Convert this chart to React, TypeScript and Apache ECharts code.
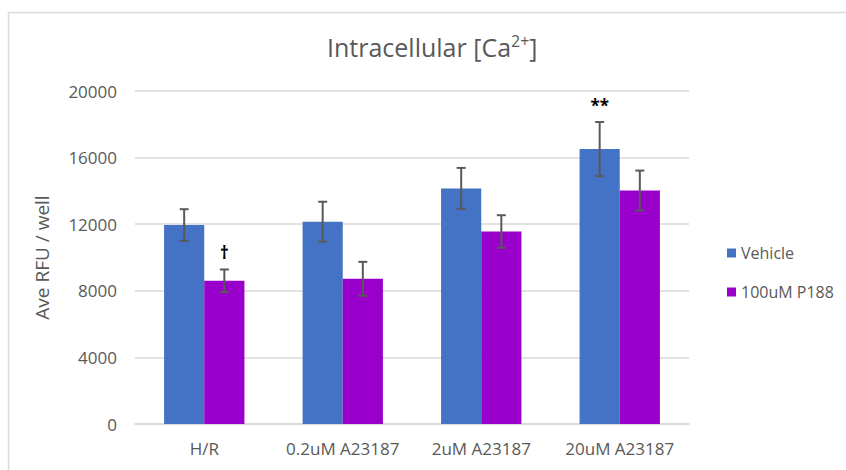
import React, { useEffect, useRef } from "react";
import * as echarts from "echarts";

// Treatment groups on the x axis
const categories = ["H/R", "0.2uM A23187", "2uM A23187", "20uM A23187"];

// Mean fluorescence per well and standard error for each treatment
const vehicleMeans = [11950, 12150, 14150, 16510];
const vehicleErrors = [950, 1200, 1230, 1630];
const p188Means = [8600, 8720, 11560, 14020];
const p188Errors = [680, 1020, 980, 1200];

// Significance markers drawn above the error bars
const vehicleMarks = ["", "", "", "**"];
const p188Marks = ["\u2020", "", "", ""];

const yTicks = { min: 0, max: 20000, interval: 4000 };

const FONT = "'Open Sans', 'Noto Sans', sans-serif";
const GREY = "#595959";
const BLUE = "#4472C4";
const PURPLE = "#9900CC";

// share of the category band taken by the two-bar cluster
const BAR_SHARE = 0.58;

function errorBarSeries(
  name: string,
  means: number[],
  errors: number[],
  marks: string[],
  side: number
) {
  return {
    type: "custom",
    name: name + " error",
    z: 10,
    silent: true,
    data: means.map((m, i) => [i, m, errors[i]]),
    encode: { x: 0, y: 1 },
    renderItem: (params: any, api: any) => {
      const idx = api.value(0);
      const mean = api.value(1);
      const err = api.value(2);
      const band = api.size([1, 0])[0];
      const cx = api.coord([idx, mean])[0] + side * band * (BAR_SHARE / 4);
      const yTop = api.coord([idx, mean + err])[1];
      const yBot = api.coord([idx, mean - err])[1];
      const cap = 4.5;
      const lineStyle = { stroke: GREY, lineWidth: 2 };
      const children: any[] = [
        { type: "line", shape: { x1: cx, y1: yTop, x2: cx, y2: yBot }, style: lineStyle },
        { type: "line", shape: { x1: cx - cap, y1: yTop, x2: cx + cap, y2: yTop }, style: lineStyle },
        { type: "line", shape: { x1: cx - cap, y1: yBot, x2: cx + cap, y2: yBot }, style: lineStyle },
      ];
      const mark = marks[params.dataIndex];
      if (mark) {
        children.push({
          type: "text",
          x: cx,
          y: yTop - 8,
          style: {
            text: mark,
            fill: "#000000",
            font: "bold 17px " + FONT,
            align: "center",
            verticalAlign: "bottom",
          },
        });
      }
      return { type: "group", children };
    },
  };
}

export default function App() {
  const ref = useRef<HTMLDivElement>(null);

  useEffect(() => {
    if (!ref.current) return;
    const chart = echarts.init(ref.current, undefined, { renderer: "svg" });
    chart.setOption({
      animation: false,
      backgroundColor: "#ffffff",
      textStyle: { fontFamily: FONT },
      title: {
        text: "Intracellular [Ca{sup|2+}]",
        left: 322,
        top: 28,
        textStyle: {
          fontFamily: FONT,
          fontSize: 25,
          fontWeight: "normal",
          color: GREY,
          rich: {
            sup: {
              fontFamily: FONT,
              fontSize: 16,
              color: GREY,
              verticalAlign: "top",
              padding: [0, 0, 11, 0],
            },
          },
        },
      },
      graphic: [
        {
          type: "rect",
          silent: true,
          shape: { x: 8.5, y: 12.5, width: 1000, height: 1000 },
          style: { fill: "none", stroke: "#d9d9d9", lineWidth: 1.5 },
        },
      ],
      legend: {
        orient: "vertical",
        left: 722,
        top: 240,
        itemWidth: 9,
        itemHeight: 9,
        itemGap: 23,
        icon: "rect",
        textStyle: { color: GREY, fontSize: 16, fontFamily: FONT },
        data: ["Vehicle", "100uM P188"],
      },
      grid: { left: 135, right: 157, top: 91, bottom: 46 },
      xAxis: {
        type: "category",
        data: categories,
        axisLine: { lineStyle: { color: "#d9d9d9", width: 1.5 } },
        axisTick: { show: false },
        axisLabel: {
          color: GREY,
          fontSize: 17,
          fontFamily: FONT,
          margin: 16,
          interval: 0,
        },
      },
      yAxis: {
        type: "value",
        min: yTicks.min,
        max: yTicks.max,
        interval: yTicks.interval,
        name: "Ave RFU / well",
        nameLocation: "middle",
        nameGap: 84,
        nameRotate: 90,
        nameTextStyle: { color: GREY, fontSize: 19, fontFamily: FONT },
        axisLine: { show: false },
        axisTick: { show: false },
        axisLabel: {
          color: GREY,
          fontSize: 17,
          fontFamily: FONT,
          margin: 18,
          formatter: (v: number) => String(v),
        },
        splitLine: { lineStyle: { color: "#d9d9d9", width: 1.5 } },
      },
      series: [
        {
          type: "bar",
          name: "Vehicle",
          data: vehicleMeans,
          itemStyle: { color: BLUE },
          barGap: "0%",
          barCategoryGap: "42%",
        },
        {
          type: "bar",
          name: "100uM P188",
          data: p188Means,
          itemStyle: { color: PURPLE },
          barGap: "0%",
          barCategoryGap: "42%",
        },
        errorBarSeries("Vehicle", vehicleMeans, vehicleErrors, vehicleMarks, -1),
        errorBarSeries("100uM P188", p188Means, p188Errors, p188Marks, 1),
      ],
    });
    return () => chart.dispose();
  }, []);

  return (
    <div
      ref={ref}
      style={{ position: "fixed", left: 0, top: 0, width: 846, height: 470 }}
    />
  );
}
